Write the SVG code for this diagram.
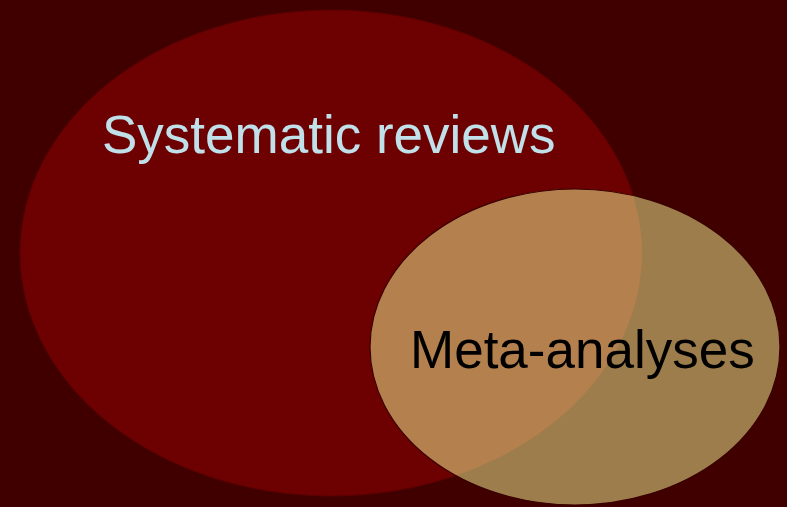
<svg xmlns="http://www.w3.org/2000/svg" width="787" height="507" viewBox="0 0 787 507">
<defs>
<style>
.lbl{font-family:"Liberation Sans",Arial,sans-serif;font-size:53px}
</style>
<clipPath id="clipSmall"><ellipse cx="575" cy="347" rx="205" ry="158"/></clipPath>
</defs>
<rect width="787" height="507" fill="#400000"/>
<g id="systematic-reviews">
<ellipse cx="331" cy="253" rx="311" ry="243" fill="#6d0000" stroke="#5a0000" stroke-width="1"/>
<text class="lbl" x="102" y="153" fill="#c0e0ea">Systematic reviews</text>
</g>
<g id="meta-analyses">
<ellipse cx="575" cy="347" rx="205" ry="158" fill="#9c7d4b"/>
<ellipse cx="331" cy="253" rx="311" ry="243" fill="#b4804e" clip-path="url(#clipSmall)"/>
<ellipse cx="575" cy="347" rx="205" ry="158" fill="none" stroke="#3a0000" stroke-width="1.2"/>
<text class="lbl" x="410" y="368" fill="#000000">Meta-analyses</text>
</g>
<g id="connectors"></g>
</svg>
